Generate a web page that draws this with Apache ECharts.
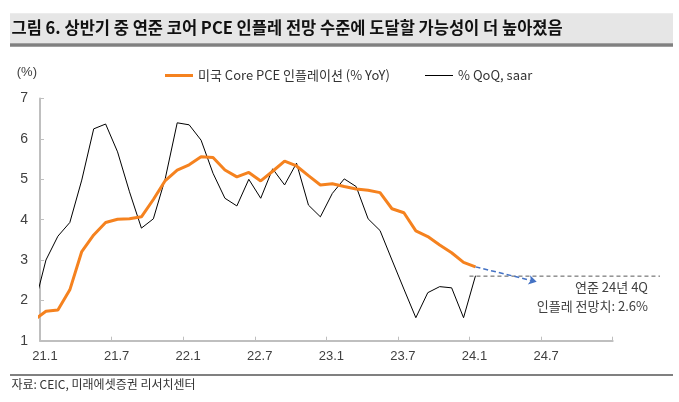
<!DOCTYPE html>
<html>
<head>
<meta charset="utf-8">
<script src="https://cdn.jsdelivr.net/npm/echarts@6/dist/echarts.min.js"></script>
<style>
html,body{margin:0;padding:0;background:#fff;}
#chart{width:679px;height:402px;}
</style>
</head>
<body>
<div id="chart"></div>
<script>
// ---- data ----
var months = ['20.12','21.1','21.2','21.3','21.4','21.5','21.6','21.7','21.8','21.9','21.10','21.11','21.12',
  '22.1','22.2','22.3','22.4','22.5','22.6','22.7','22.8','22.9','22.10','22.11','22.12',
  '23.1','23.2','23.3','23.4','23.5','23.6','23.7','23.8','23.9','23.10','23.11','23.12','24.1'];
var coreYoY = [1.51,1.73,1.76,2.26,3.21,3.62,3.93,4.01,4.02,4.07,4.50,4.97,5.23,
  5.36,5.56,5.54,5.23,5.06,5.17,4.96,5.20,5.45,5.33,5.09,4.86,
  4.89,4.82,4.76,4.73,4.67,4.27,4.17,3.72,3.58,3.37,3.18,2.94,2.83];
var qoqSaar = [1.84,3.00,3.59,3.93,4.98,6.25,6.37,5.68,4.69,3.79,4.02,5.02,6.40,
  6.35,5.97,5.15,4.53,4.34,5.00,4.53,5.26,4.86,5.40,4.36,4.07,
  4.65,5.01,4.82,4.02,3.73,3.00,2.28,1.57,2.19,2.34,2.31,1.57,2.61];
var xTickLabels = ['21.1','21.7','22.1','22.7','23.1','23.7','24.1','24.7'];
var fedForecast = 2.6;          // 연준 24년 4Q 전망치
var arrowEnd = ['24.6', 2.46];  // 점선 화살표 끝 (월, 값)
var seriesNames = ['미국 Core PCE 인플레이션 (% YoY)', '% QoQ, saar'];

// month label -> axis value (21.1 centred at 0.5)
function monthPos(lbl){
  var p = lbl.split('.');
  var y = parseInt(p[0],10), m = parseInt(p[1],10);
  return (y-21)*12 + (m-1) + 0.5;
}
function toPairs(vals){ return months.map(function(m,i){ return [monthPos(m), vals[i]]; }); }

var FONT = "'Liberation Sans','Noto Sans CJK KR',sans-serif";
var KFONT = "'Noto Sans CJK KR','Liberation Sans',sans-serif";
var AX = '#bfbfbf';

var chart = echarts.init(document.getElementById('chart'), null, {renderer:'canvas'});
var lastPos = monthPos(months[months.length-1]);

chart.setOption({
  animation:false,
  backgroundColor:'#fff',
  textStyle:{fontFamily:FONT},
  grid:[
    {left:40, top:98.6, width:572.7, height:242.1},
    {left:40, top:98.6, width:620, height:242.1}
  ],
  legend:[
    {data:[seriesNames[0]], left:160, top:64, icon:'rect', itemWidth:28, itemHeight:3, itemGap:4,
     textStyle:{fontSize:13, color:'#333', fontFamily:KFONT}},
    {data:[seriesNames[1]], left:420, top:64, icon:'rect', itemWidth:28, itemHeight:1, itemGap:4,
     textStyle:{fontSize:13, color:'#333', fontFamily:KFONT}}
  ],
  xAxis:[
    {type:'value', gridIndex:0, min:0, max:48, interval:6,
     axisLine:{show:true, onZero:false, lineStyle:{color:AX, width:2}},
     axisTick:{show:true, inside:true, length:4, lineStyle:{color:AX, width:1}},
     splitLine:{show:false},
     axisLabel:{show:true, fontSize:13, color:'#404040', margin:9, padding:[0,0,0,10],
       showMaxLabel:true,
       formatter:function(v){ var i = Math.round(v/6); return (v < 48 && xTickLabels[i]) ? xTickLabels[i] : ''; }}
    },
    {type:'value', gridIndex:1, min:0, max:620/11.93, show:false}
  ],
  yAxis:[
    {type:'value', gridIndex:0, min:1, max:7, interval:1,
     name:'(%)', nameLocation:'end', nameGap:20,
     nameTextStyle:{fontSize:13, color:'#404040', align:'right', padding:[0,3,0,0]},
     axisLine:{show:true, lineStyle:{color:AX, width:2}},
     axisTick:{show:true, inside:true, length:4, lineStyle:{color:AX, width:1}},
     splitLine:{show:false},
     axisLabel:{fontSize:14, color:'#404040', margin:12}
    },
    {type:'value', gridIndex:1, min:1, max:7, show:false}
  ],
  series:[
    {name:seriesNames[0], type:'line', xAxisIndex:0, yAxisIndex:0, data:toPairs(coreYoY),
     symbol:'none', clip:true, lineStyle:{color:'#F5821F', width:3}, itemStyle:{color:'#F5821F'}, z:3,
     markLine:{silent:true, symbol:['none','arrow'], symbolSize:[7,8],
       lineStyle:{color:'#4472C4', width:1.5, type:[5,3]}, label:{show:false},
       data:[[{coord:[lastPos, coreYoY[coreYoY.length-1]]},{coord:[monthPos(arrowEnd[0])+0.13, arrowEnd[1]]}]]}
    },
    {name:seriesNames[1], type:'line', xAxisIndex:0, yAxisIndex:0, data:toPairs(qoqSaar),
     symbol:'none', clip:true, lineStyle:{color:'#000', width:1}, itemStyle:{color:'#000'}, z:2},
    {name:'forecast', type:'line', xAxisIndex:1, yAxisIndex:1,
     data:[[monthPos('24.1')-0.5, fedForecast],[620/11.93, fedForecast]],
     symbol:'none', lineStyle:{color:'#595959', width:1, type:[4,3]}, z:1, silent:true}
  ],
  graphic:[
    {type:'rect', left:10, top:13.3, shape:{width:663, height:30}, style:{fill:'#e6e6e6'}, silent:true},
    {type:'rect', left:10, top:43.3, shape:{width:663, height:3.4}, style:{fill:'#808080'}, silent:true},
    {type:'text', left:11.5, top:19.5, style:{text:'그림 6. 상반기 중 연준 코어 PCE 인플레 전망 수준에 도달할 가능성이 더 높아졌음',
      font:'bold 16.5px '+KFONT, fill:'#111'}},
    {type:'text', right:31, top:281, style:{text:'연준 24년 4Q', font:'13px '+KFONT, fill:'#404040', textAlign:'right'}},
    {type:'text', right:31, top:300, style:{text:'인플레 전망치: 2.6%', font:'13px '+KFONT, fill:'#404040', textAlign:'right'}},
    {type:'rect', left:10, top:374, shape:{width:663, height:2}, style:{fill:'#808080'}, silent:true},
    {type:'text', left:11.5, top:378, style:{text:'자료: CEIC, 미래에셋증권 리서치센터', font:'12px '+KFONT, fill:'#333'}}
  ]
});
</script>
</body>
</html>
